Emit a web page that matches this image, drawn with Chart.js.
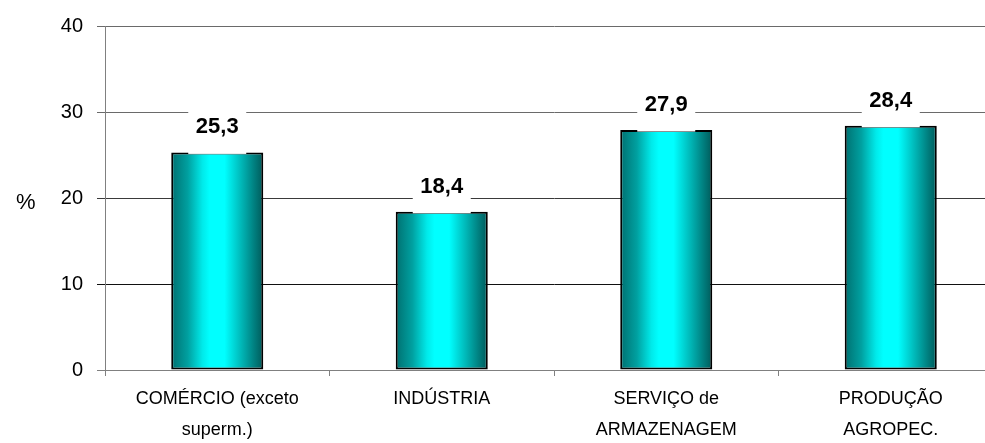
<!DOCTYPE html>
<html>
<head>
<meta charset="utf-8">
<script src="https://cdn.jsdelivr.net/npm/chart.js@4/dist/chart.umd.min.js"></script>
<style>
  html, body { margin: 0; padding: 0; background: #fff; overflow: hidden; }
  #wrap { width: 985px; height: 443px; overflow: hidden; position: relative; }
  #c { position: absolute; left: 0; top: 0; }
</style>
</head>
<body>
<div id="wrap"><canvas id="c" width="1003" height="443"></canvas></div>
<script>
const categories = [
  ["COMÉRCIO (exceto", "superm.)"],
  ["INDÚSTRIA"],
  ["SERVIÇO de", "ARMAZENAGEM"],
  ["PRODUÇÃO", "AGROPEC."]
];
const values = [25.3, 18.4, 27.9, 28.4];
const yTicks = [0, 10, 20, 30, 40];
const yAxisLabel = "%";

const FONT = "Arial, 'Liberation Sans', sans-serif";
const BAR_PCT = 0.41;

function barGradient(ctx) {
  const chart = ctx.chart;
  const xs = chart.scales && chart.scales.x;
  if (!chart.chartArea || !xs) return '#00ffff';
  const cx = xs.getPixelForValue(ctx.dataIndex);
  const w = (xs.width / categories.length) * BAR_PCT;
  const g = chart.ctx.createLinearGradient(cx - w / 2, 0, cx + w / 2, 0);
  g.addColorStop(0.0, '#007070');
  g.addColorStop(0.18, '#00a0a0');
  g.addColorStop(0.34, '#00eaea');
  g.addColorStop(0.42, '#00ffff');
  g.addColorStop(0.58, '#00ffff');
  g.addColorStop(0.76, '#00b8b8');
  g.addColorStop(0.9, '#008080');
  g.addColorStop(1.0, '#005a5a');
  return g;
}

const valueLabels = {
  id: 'valueLabels',
  afterDatasetsDraw(chart) {
    const c = chart.ctx;
    const meta = chart.getDatasetMeta(0);
    c.save();
    c.font = "bold 22px " + FONT;
    c.textAlign = 'center';
    c.textBaseline = 'alphabetic';
    meta.data.forEach((bar, i) => {
      const txt = values[i].toFixed(1).replace('.', ',');
      const base = bar.y - 19;
      c.fillStyle = '#ffffff';
      c.fillRect(bar.x - 29, base - 30, 58, bar.y + 1.5 - (base - 30));
      c.fillStyle = '#000000';
      c.fillText(txt, bar.x, base);
    });
    c.restore();
  },
  afterDraw(chart) {
    const c = chart.ctx;
    c.save();
    c.font = "22px " + FONT;
    c.fillStyle = '#000';
    c.textAlign = 'left';
    c.textBaseline = 'middle';
    c.fillText(yAxisLabel, 16, 203);
    c.restore();
  }
};

function gridColor(ctx) {
  const v = ctx.tick ? ctx.tick.value : null;
  if (v === 0) return '#808080';
  if (v === 40 || v === 30) return '#6a6a6a';
  if (v === 20) return '#3a3a3a';
  return '#111111';
}

new Chart(document.getElementById('c'), {
  type: 'bar',
  data: {
    labels: categories,
    datasets: [{
      data: values,
      backgroundColor: barGradient,
      borderColor: '#000000',
      borderWidth: 2,
      borderSkipped: false,
      barPercentage: BAR_PCT,
      categoryPercentage: 1.0
    }]
  },
  options: {
    responsive: false,
    animation: false,
    events: [],
    layout: { padding: { left: 0, right: 0, top: 25, bottom: 0 } },
    plugins: { legend: { display: false }, tooltip: { enabled: false } },
    scales: {
      x: {
        grid: { display: true, drawOnChartArea: false, drawTicks: true, tickLength: 6, color: '#808080', offset: true },
        border: { display: true, color: '#808080', width: 1 },
        ticks: {
          color: '#000',
          font: { family: FONT, size: 18, lineHeight: 1.72 },
          padding: 8,
          maxRotation: 0,
          autoSkip: false
        },
        afterFit(scale) { scale.height = 73; }
      },
      y: {
        min: 0, max: 40,
        afterBuildTicks(scale) { scale.ticks = yTicks.map(v => ({ value: v })); },
        grid: { color: gridColor, tickLength: 8, drawTicks: true, lineWidth: 1 },
        border: { display: true, color: '#808080', width: 1 },
        ticks: {
          color: '#000',
          font: { family: FONT, size: 20 },
          padding: 14,
          stepSize: 10
        },
        afterFit(scale) { scale.width = 105; }
      }
    }
  },
  plugins: [valueLabels]
});
</script>
</body>
</html>
